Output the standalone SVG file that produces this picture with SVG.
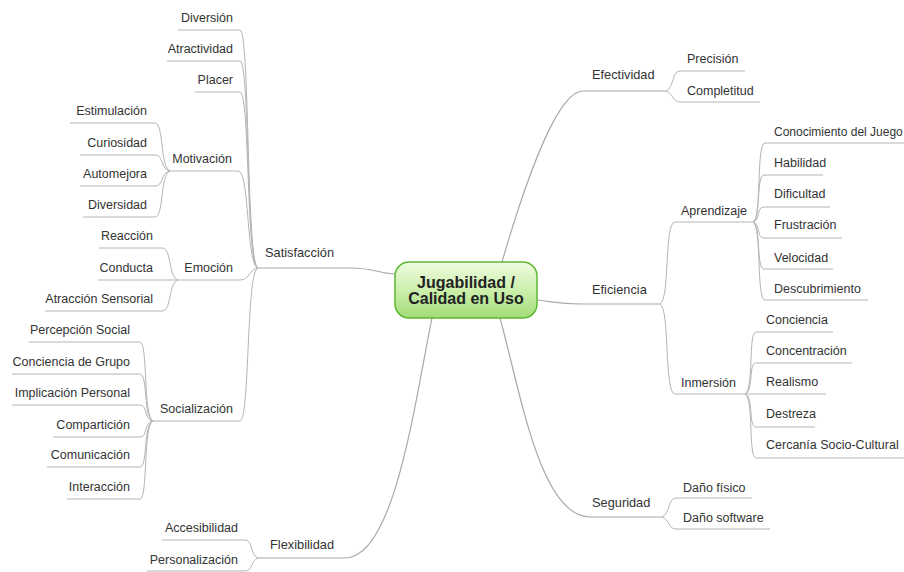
<svg xmlns="http://www.w3.org/2000/svg" width="904" height="572" viewBox="0 0 904 572">
<defs>
<linearGradient id="g" x1="0" y1="0" x2="0" y2="1">
<stop offset="0" stop-color="#eefbe0"/>
<stop offset="0.5" stop-color="#cdf0ad"/>
<stop offset="1" stop-color="#a2dc78"/>
</linearGradient>
</defs>
<style>
text{font-family:"Liberation Sans",Arial,sans-serif;fill:#333;font-size:12.5px}
.m{font-size:12.8px}
.e{text-anchor:end}
.c{font-weight:bold;font-size:16px;text-anchor:middle;fill:#222}
.l{fill:none;stroke:#b4b4b4;stroke-width:1}
.k{fill:none;stroke:#a8a8a8;stroke-width:1.2}
</style>
<rect width="904" height="572" fill="#fff"/>
<g id="connectors">
<path class="k" d="M396 274 C380 274 375 268 350 268 L258 268"/>
<path class="k" d="M432 318 C415 400 395 558 345 558 L258 558"/>
<path class="k" d="M502 262 C520 200 555 91 583 91 L666 91"/>
<path class="k" d="M537 300 C560 303 560 304 580 304 L660 304"/>
<path class="k" d="M500 318 C520 390 540 517 590 517 L662 517"/>
<path class="l" d="M258 268 C246 266 250 30 240 30 L178 30"/>
<path class="l" d="M258 268 C246 266 250 61 240 61 L167 61"/>
<path class="l" d="M258 268 C246 266 250 92 240 92 L195 92"/>
<path class="l" d="M258 268 C246 266 250 171 238 171 L170 171"/>
<path class="l" d="M258 268 C248 270 250 280 240 280 L178 280"/>
<path class="l" d="M258 268 C246 270 250 421 240 421 L153 421"/>
<path class="l" d="M170 171 C160 168 164 123 155 123 L70 123"/>
<path class="l" d="M170 171 C160 169 164 155 155 155 L80 155"/>
<path class="l" d="M170 171 C160 173 164 186 155 186 L80 186"/>
<path class="l" d="M170 171 C160 174 164 217 155 217 L83 217"/>
<path class="l" d="M178 280 C168 277 172 248 162 248 L99 248"/>
<path class="l" d="M178 280 L98 280"/>
<path class="l" d="M178 280 C168 283 172 311 162 311 L45 311"/>
<path class="l" d="M153 421 C143 417 148 342 140 342 L29 342"/>
<path class="l" d="M153 421 C143 418 148 374 140 374 L12 374"/>
<path class="l" d="M153 421 C143 419 148 405 140 405 L12 405"/>
<path class="l" d="M153 421 C143 423 148 437 140 437 L53 437"/>
<path class="l" d="M153 421 C143 424 148 467 140 467 L47 467"/>
<path class="l" d="M153 421 C143 425 148 499 140 499 L67 499"/>
<path class="l" d="M258 558 C250 555 253 540 245 540 L162 540"/>
<path class="l" d="M258 558 C250 561 253 571 245 571 L147 571"/>
<path class="l" d="M666 91 C674 88 672 71 680 71 L745 71"/>
<path class="l" d="M666 91 C674 94 672 102 680 102 L760 102"/>
<path class="l" d="M660 304 C670 300 664 222 675 222 L753 222"/>
<path class="l" d="M660 304 C670 308 664 394 675 394 L745 394"/>
<path class="l" d="M753 222 C762 218 756 143 765 143 L904 143"/>
<path class="l" d="M753 222 C761 219 756 175 764 175 L823 175"/>
<path class="l" d="M753 222 C761 220 756 207 764 207 L830 207"/>
<path class="l" d="M753 222 C761 224 756 238 764 238 L842 238"/>
<path class="l" d="M753 222 C761 225 756 269 764 269 L833 269"/>
<path class="l" d="M753 222 C762 226 756 300 765 300 L868 300"/>
<path class="l" d="M745 394 C754 390 748 332 756 332 L833 332"/>
<path class="l" d="M745 394 C754 391 748 363 756 363 L852 363"/>
<path class="l" d="M745 394 L826 394"/>
<path class="l" d="M745 394 C754 397 748 427 756 427 L815 427"/>
<path class="l" d="M745 394 C754 398 748 458 756 458 L904 458"/>
<path class="l" d="M662 517 C670 514 668 498 676 498 L752 498"/>
<path class="l" d="M662 517 C670 520 668 529 676 529 L770 529"/>
</g>
<g id="center">
<rect x="395" y="262" width="142" height="56" rx="14" fill="url(#g)" stroke="#5fb832" stroke-width="1.5"/>
<text class="c" x="466" y="288">Jugabilidad /</text>
<text class="c" x="466" y="304">Calidad en Uso</text>
</g>
<g id="satisfaccion"><text class="m" x="265" y="257">Satisfacción</text></g>
<g id="diversion"><text class="e" x="233" y="22">Diversión</text></g>
<g id="atractividad"><text class="e" x="233" y="53">Atractividad</text></g>
<g id="placer"><text class="e" x="233" y="84">Placer</text></g>
<g id="motivacion"><text class="e" x="232" y="163">Motivación</text></g>
<g id="estimulacion"><text class="e" x="147" y="115">Estimulación</text></g>
<g id="curiosidad"><text class="e" x="147" y="147">Curiosidad</text></g>
<g id="automejora"><text class="e" x="147" y="178">Automejora</text></g>
<g id="diversidad"><text class="e" x="147" y="209">Diversidad</text></g>
<g id="emocion"><text class="e" x="233" y="272">Emoción</text></g>
<g id="reaccion"><text class="e" x="153" y="240">Reacción</text></g>
<g id="conducta"><text class="e" x="153" y="272">Conducta</text></g>
<g id="atraccion"><text class="e" x="153" y="303">Atracción Sensorial</text></g>
<g id="socializacion"><text class="e" x="233" y="413">Socialización</text></g>
<g id="percepcion"><text class="e" x="130" y="334">Percepción Social</text></g>
<g id="concienciagrupo"><text class="e" x="130" y="366">Conciencia de Grupo</text></g>
<g id="implicacion"><text class="e" x="130" y="397">Implicación Personal</text></g>
<g id="comparticion"><text class="e" x="130" y="429">Compartición</text></g>
<g id="comunicacion"><text class="e" x="130" y="459">Comunicación</text></g>
<g id="interaccion"><text class="e" x="130" y="491">Interacción</text></g>
<g id="flexibilidad"><text class="m" x="270" y="549">Flexibilidad</text></g>
<g id="accesibilidad"><text class="e" x="238" y="532">Accesibilidad</text></g>
<g id="personalizacion"><text class="e" x="238" y="564">Personalización</text></g>
<g id="efectividad"><text class="m" x="592" y="79">Efectividad</text></g>
<g id="precision"><text x="687" y="63">Precisión</text></g>
<g id="completitud"><text x="687" y="95">Completitud</text></g>
<g id="eficiencia"><text class="m" x="592" y="294">Eficiencia</text></g>
<g id="aprendizaje"><text x="681" y="215">Aprendizaje</text></g>
<g id="conocimiento"><text x="774" y="136" style="font-size:12px">Conocimiento del Juego</text></g>
<g id="habilidad"><text x="774" y="167">Habilidad</text></g>
<g id="dificultad"><text x="774" y="198">Dificultad</text></g>
<g id="frustracion"><text x="774" y="229">Frustración</text></g>
<g id="velocidad"><text x="774" y="262">Velocidad</text></g>
<g id="descubrimiento"><text x="774" y="293">Descubrimiento</text></g>
<g id="inmersion"><text x="681" y="387">Inmersión</text></g>
<g id="conciencia"><text x="766" y="324">Conciencia</text></g>
<g id="concentracion"><text x="766" y="355">Concentración</text></g>
<g id="realismo"><text x="766" y="386">Realismo</text></g>
<g id="destreza"><text x="766" y="418">Destreza</text></g>
<g id="cercania"><text x="766" y="449">Cercanía Socio-Cultural</text></g>
<g id="seguridad"><text class="m" x="592" y="507">Seguridad</text></g>
<g id="danofisico"><text x="683" y="492">Daño físico</text></g>
<g id="danosoftware"><text x="683" y="522">Daño software</text></g>
</svg>
